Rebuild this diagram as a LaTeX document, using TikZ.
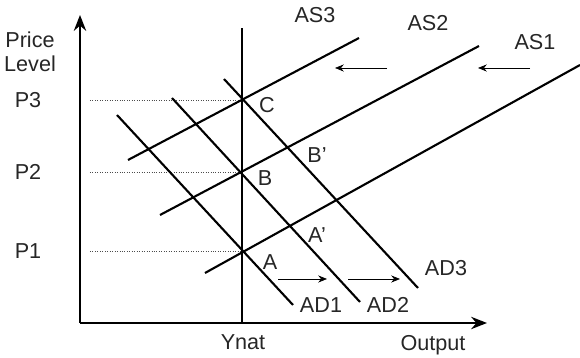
\documentclass[tikz,border=0pt]{standalone}
\usepackage{fontspec}
\setmainfont{Liberation Sans}
\usetikzlibrary{arrows.meta}
\begin{document}
\begin{tikzpicture}[>={Stealth[length=5pt,width=4pt]},font=\fontsize{12.3}{13.6}\selectfont,text=black!85]
\useasboundingbox(-1.6,-0.7) rectangle (10,6.46);
    \draw[->,line width=1.3pt,>={Stealth[length=9pt,width=7pt]}](0,0)--(8.14,0);
    \draw[->,line width=1.3pt,>={Stealth[length=9pt,width=7pt]}](0,0)--(0,6.16);
\node[align=center] at (-1.0,5.42){Price\\Level};
\node at (7.06,-0.44){Output};
\node at (3.26,-0.38){Ynat};

\draw[line width=.9pt](3.24,0)--(3.24,5.9);
\coordinate (C) at (3.24,4.46);
\coordinate (B) at (3.24,3.02);
\coordinate (A) at (3.24,1.44);
\draw[densely dotted,black!70](0.2,4.46)--(C);
\draw[densely dotted,black!70](0.2,3.02)--(B);
\draw[densely dotted,black!70](0.2,1.44)--(A);
\node at (-1.04,4.46){P3};
\node at (-1.04,3.02){P2};
\node at (-1.04,1.44){P1};

% supply
\draw[line width=1.2pt](0.96,3.26)--(5.58,5.7);
\draw[line width=1.2pt](1.6,2.16)--(7.98,5.54);
\draw[line width=1.2pt](2.5,1.0)--(10,5.16);
\node at (4.7,6.16){AS3};
\node at (6.96,6.0){AS2};
\node at (9.1,5.62){AS1};
\draw[->](6.14,5.1)--(5.1,5.1);
\draw[->](9.0,5.1)--(7.96,5.1);

% demand
\draw[line width=1.2pt](0.74,4.16)--(4.26,0.36);
\draw[line width=1.2pt](1.84,4.5)--(5.6,0.42);
\draw[line width=1.2pt](2.88,4.88)--(6.76,0.7);
\node at (4.82,0.36){AD1};
\node at (6.16,0.36){AD2};
\node at (7.32,1.1){AD3};
\draw[->](3.96,0.88)--(4.94,0.88);
\draw[->](5.36,0.88)--(6.4,0.88);

\node at (3.8,1.22){A};
\node at (4.74,1.76){A'};
\node at (3.7,2.9){B};
\node at (4.74,3.36){B'};
\node at (3.74,4.36){C};
\end{tikzpicture}
\end{document}
